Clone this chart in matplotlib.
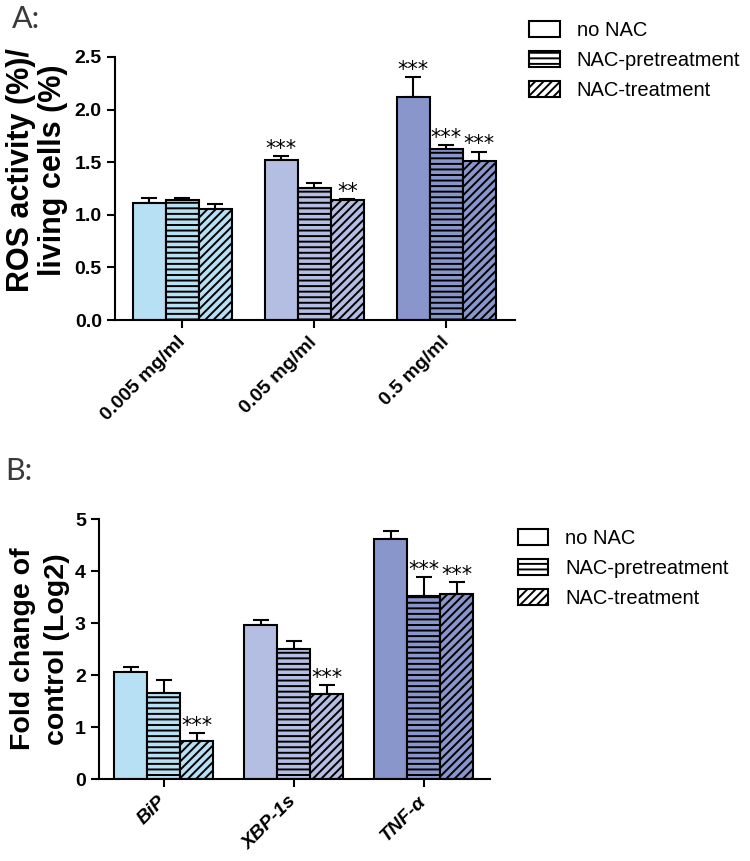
import matplotlib.pyplot as plt
import numpy as np
from matplotlib.patches import Patch

plt.rcParams['font.family'] = ['Liberation Sans', 'DejaVu Sans']
plt.rcParams['hatch.linewidth'] = 1.4

series = ['no NAC', 'NAC-pretreatment', 'NAC-treatment']
hatches = ['', '---', '////']
group_colors = ['#b8e0f4', '#b4bee2', '#8896cc']

# panel A: ROS activity
ros_doses = ['0.005 mg/ml', '0.05 mg/ml', '0.5 mg/ml']
ros_no_nac = [1.11, 1.52, 2.12]
ros_pre = [1.14, 1.255, 1.63]
ros_treat = [1.055, 1.14, 1.51]
ros_no_nac_err = [0.05, 0.04, 0.19]
ros_pre_err = [0.02, 0.045, 0.03]
ros_treat_err = [0.045, 0.01, 0.09]
ros_stars = [['', '***', '***'], ['', '', '***'], ['', '**', '***']]

# panel B: gene expression
genes = ['BiP', 'XBP-1s', 'TNF-α']
fc_no_nac = [2.06, 2.96, 4.61]
fc_pre = [1.66, 2.51, 3.52]
fc_treat = [0.74, 1.63, 3.55]
fc_no_nac_err = [0.10, 0.10, 0.15]
fc_pre_err = [0.24, 0.14, 0.37]
fc_treat_err = [0.15, 0.18, 0.24]
fc_stars = [['', '', ''], ['', '', '***'], ['***', '***', '***']]


def draw_panel(ax, labels, values, errors, stars, width):
    x = np.arange(len(labels))
    for i in range(3):
        pos = x + (i - 1) * width
        ax.bar(pos, values[i], width, color=group_colors, edgecolor='black',
               linewidth=1.5, hatch=hatches[i], zorder=2)
        ax.errorbar(pos, values[i], yerr=[np.zeros(len(x)), errors[i]], fmt='none',
                    ecolor='black', elinewidth=1.5, capsize=6, capthick=1.5, zorder=1)
        for p, v, e, s in zip(pos, values[i], errors[i], stars[i]):
            if s:
                ax.annotate(s, (p, v + e), xytext=(0, -2), textcoords='offset points',
                            ha='center', va='bottom', fontsize=15, family='DejaVu Sans')
    ax.set_xticks(x)
    for side in ['top', 'right']:
        ax.spines[side].set_visible(False)
    for side in ['left', 'bottom']:
        ax.spines[side].set_linewidth(1.5)
    ax.tick_params(direction='out', length=6, width=1.5, labelsize=14)
    ax.tick_params(axis='x', pad=8)


fig = plt.figure(figsize=(7.5, 8.61), dpi=100)

ax1 = fig.add_axes([0.1533, 0.6283, 0.5333, 0.3055])
draw_panel(ax1, ros_doses, [ros_no_nac, ros_pre, ros_treat],
           [ros_no_nac_err, ros_pre_err, ros_treat_err], ros_stars, 0.25)
ax1.set_xlim(-0.51, 2.52)
ax1.set_ylim(0, 2.5)
ax1.set_yticks(np.arange(0, 2.51, 0.5))
ax1.set_yticklabels([f'{v:.1f}' for v in np.arange(0, 2.51, 0.5)], fontweight='bold')
ax1.set_xticklabels(ros_doses, rotation=45, ha='right', va='center', rotation_mode='anchor',
                    fontsize=14, fontweight='bold')
ax1.set_ylabel('ROS activity (%)/\nliving cells (%)', fontsize=22, fontweight='bold',
               linespacing=1.08)
ax1.yaxis.set_label_coords(-0.118, 0.57)

ax2 = fig.add_axes([0.132, 0.0952, 0.5213, 0.302])
draw_panel(ax2, genes, [fc_no_nac, fc_pre, fc_treat],
           [fc_no_nac_err, fc_pre_err, fc_treat_err], fc_stars, 0.254)
ax2.set_xlim(-0.5, 2.51)
ax2.set_ylim(0, 5)
ax2.set_yticks(range(6))
ax2.set_yticklabels([str(v) for v in range(6)], fontweight='bold')
ax2.set_xticklabels(genes, rotation=45, ha='right', va='center', rotation_mode='anchor',
                    fontsize=14, fontweight='bold', fontstyle='italic')
ax2.set_ylabel('Fold change of\ncontrol (Log2)', fontsize=20.5, fontweight='bold',
               linespacing=1.4)
ax2.yaxis.set_label_coords(-0.074, 0.5)

handles = [Patch(facecolor='white', edgecolor='black', linewidth=1.5, hatch=h) for h in hatches]
for anchor in [(0.695, 0.985), (0.68, 0.395)]:
    fig.legend(handles, series, loc='upper left', bbox_to_anchor=anchor, frameon=False,
               fontsize=14.5, handlelength=1.5, handleheight=0.85, handletextpad=0.85,
               labelspacing=0.55, borderaxespad=0)

fig.text(12 / 750, 1 - 28 / 861, 'A:', fontsize=22, family='Lato', color='#3a3a3a', va='baseline')
fig.text(5 / 750, 1 - 480 / 861, 'B:', fontsize=22, family='Lato', color='#3a3a3a', va='baseline')

fig.savefig('out.png', dpi=100)
